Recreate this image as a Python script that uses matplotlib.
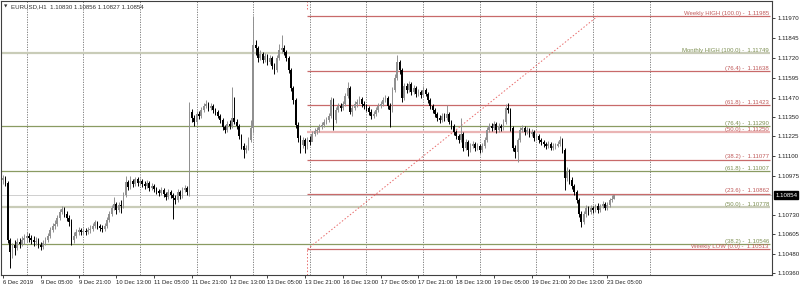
import numpy as np
import matplotlib
matplotlib.use("Agg")
import matplotlib.pyplot as plt

plt.rcParams["font.family"] = ["Liberation Sans", "DejaVu Sans"]

# EURUSD H1, 6 Dec 2019 13:00 .. 23 Dec 2019 08:00 (one row per trading day)
open_first = 1.10949
closes = [
    1.10962, 1.10930, 1.10570, 1.10494, 1.10538, 1.10519, 1.10557, 1.10545, 1.10570, 1.10582, 1.10595,
    1.10582, 1.10570, 1.10557, 1.10563, 1.10538, 1.10526, 1.10551, 1.10570, 1.10595, 1.10633, 1.10658, 1.10671,
    1.10709, 1.10747, 1.10766, 1.10734, 1.10709, 1.10684, 1.10570, 1.10595, 1.10620, 1.10633, 1.10620, 1.10627,
    1.10620, 1.10633, 1.10640, 1.10658, 1.10684, 1.10658, 1.10646, 1.10640, 1.10658, 1.10696, 1.10734, 1.10772,
    1.10797, 1.10759, 1.10791, 1.10785, 1.10854, 1.10936, 1.10905, 1.10943, 1.10924, 1.10955, 1.10930, 1.10943,
    1.10924, 1.10911, 1.10930, 1.10898, 1.10911, 1.10892, 1.10880, 1.10867, 1.10886, 1.10861, 1.10842, 1.10873,
    1.10854, 1.10835, 1.10823, 1.10873, 1.10848, 1.10886, 1.10898, 1.10873, 1.11379, 1.11341, 1.11315, 1.11366,
    1.11353, 1.11391, 1.11416, 1.11429, 1.11404, 1.11416, 1.11391, 1.11379, 1.11353, 1.11328, 1.11284, 1.11265,
    1.11303, 1.11290, 1.11341, 1.11315, 1.11290, 1.11227, 1.11164, 1.11138, 1.11151, 1.11202, 1.11277, 1.11802,
    1.11783, 1.11720, 1.11745, 1.11707, 1.11732, 1.11694, 1.11720, 1.11669, 1.11644, 1.11720, 1.11770, 1.11783,
    1.11757, 1.11720, 1.11644, 1.11530, 1.11454, 1.11296, 1.11214, 1.11170, 1.11202, 1.11164, 1.11202, 1.11189,
    1.11240, 1.11259, 1.11265, 1.11284, 1.11296, 1.11315, 1.11328, 1.11353, 1.11454, 1.11328, 1.11391, 1.11416,
    1.11404, 1.11429, 1.11480, 1.11530, 1.11379, 1.11404, 1.11429, 1.11442, 1.11461, 1.11429, 1.11416, 1.11404,
    1.11379, 1.11353, 1.11366, 1.11391, 1.11416, 1.11429, 1.11454, 1.11467, 1.11416, 1.11391, 1.11517, 1.11593,
    1.11694, 1.11644, 1.11467, 1.11543, 1.11517, 1.11555, 1.11505, 1.11530, 1.11492, 1.11505, 1.11486, 1.11517,
    1.11492, 1.11454, 1.11416, 1.11391, 1.11366, 1.11341, 1.11328, 1.11353, 1.11341, 1.11366, 1.11315, 1.11290,
    1.11252, 1.11227, 1.11202, 1.11240, 1.11151, 1.11189, 1.11138, 1.11164, 1.11176, 1.11151, 1.11164, 1.11138,
    1.11164, 1.11202, 1.11265, 1.11290, 1.11277, 1.11303, 1.11265, 1.11290, 1.11277, 1.11315, 1.11404, 1.11391,
    1.11277, 1.11151, 1.11126, 1.11202, 1.11265, 1.11277, 1.11252, 1.11265, 1.11240, 1.11252, 1.11214, 1.11227,
    1.11202, 1.11189, 1.11176, 1.11164, 1.11176, 1.11151, 1.11164, 1.11164, 1.11176, 1.11202, 1.11138, 1.10962,
    1.11000, 1.10949, 1.10911, 1.10873, 1.10823, 1.10734, 1.10684, 1.10734, 1.10772, 1.10747, 1.10772, 1.10759,
    1.10785, 1.10759, 1.10785, 1.10797, 1.10772, 1.10791, 1.10823, 1.10830, 1.10854,
]
highs = [
    1.10981, 1.10974, 1.10943, 1.10582, 1.10551, 1.10570, 1.10582, 1.10582, 1.10595, 1.10608, 1.10620,
    1.10614, 1.10601, 1.10595, 1.10589, 1.10582, 1.10557, 1.10570, 1.10589, 1.10614, 1.10652, 1.10677, 1.10696,
    1.10728, 1.10766, 1.10785, 1.10778, 1.10753, 1.10728, 1.10702, 1.10620, 1.10640, 1.10652, 1.10646, 1.10646,
    1.10646, 1.10652, 1.10665, 1.10677, 1.10696, 1.10690, 1.10671, 1.10665, 1.10677, 1.10715, 1.10753, 1.10791,
    1.10842, 1.10810, 1.10810, 1.10823, 1.10873, 1.10974, 1.10949, 1.10974, 1.10955, 1.10968, 1.10968, 1.10962,
    1.10955, 1.10943, 1.10949, 1.10943, 1.10930, 1.10924, 1.10905, 1.10892, 1.10905, 1.10898, 1.10873, 1.10892,
    1.10886, 1.10867, 1.10854, 1.10892, 1.10886, 1.10905, 1.10917, 1.10911, 1.11442, 1.11397, 1.11359, 1.11385,
    1.11385, 1.11410, 1.11435, 1.11454, 1.11442, 1.11435, 1.11429, 1.11404, 1.11391, 1.11366, 1.11341, 1.11296,
    1.11322, 1.11328, 1.11536, 1.11473, 1.11334, 1.11303, 1.11240, 1.11183, 1.11170, 1.11221, 1.11328, 1.11985,
    1.11833, 1.11795, 1.11770, 1.11757, 1.11751, 1.11745, 1.11739, 1.11732, 1.11688, 1.11739, 1.11808, 1.11865,
    1.11802, 1.11770, 1.11732, 1.11656, 1.11543, 1.11467, 1.11315, 1.11233, 1.11221, 1.11214, 1.11221, 1.11227,
    1.11259, 1.11277, 1.11284, 1.11303, 1.11315, 1.11334, 1.11347, 1.11372, 1.11473, 1.11467, 1.11410, 1.11435,
    1.11435, 1.11448, 1.11499, 1.11568, 1.11543, 1.11423, 1.11448, 1.11461, 1.11480, 1.11473, 1.11448, 1.11429,
    1.11416, 1.11397, 1.11385, 1.11410, 1.11435, 1.11448, 1.11473, 1.11486, 1.11480, 1.11435, 1.11536, 1.11619,
    1.11739, 1.11707, 1.11656, 1.11562, 1.11562, 1.11574, 1.11568, 1.11549, 1.11543, 1.11524, 1.11517, 1.11543,
    1.11530, 1.11505, 1.11467, 1.11429, 1.11404, 1.11379, 1.11359, 1.11372, 1.11372, 1.11423, 1.11379, 1.11328,
    1.11303, 1.11265, 1.11240, 1.11341, 1.11252, 1.11208, 1.11202, 1.11183, 1.11195, 1.11189, 1.11183, 1.11176,
    1.11183, 1.11221, 1.11284, 1.11309, 1.11309, 1.11322, 1.11315, 1.11309, 1.11303, 1.11334, 1.11429, 1.11435,
    1.11404, 1.11290, 1.11170, 1.11214, 1.11284, 1.11296, 1.11290, 1.11284, 1.11277, 1.11271, 1.11265, 1.11246,
    1.11240, 1.11214, 1.11202, 1.11189, 1.11195, 1.11189, 1.11183, 1.11183, 1.11195, 1.11227, 1.11214, 1.11151,
    1.11031, 1.11018, 1.10968, 1.10924, 1.10886, 1.10835, 1.10753, 1.10753, 1.10791, 1.10785, 1.10791, 1.10785,
    1.10797, 1.10804, 1.10797, 1.10816, 1.10810, 1.10810, 1.10835, 1.10854, 1.10856,
]
lows = [
    1.10924, 1.10911, 1.10551, 1.10393, 1.10456, 1.10475, 1.10507, 1.10519, 1.10532, 1.10545, 1.10557,
    1.10557, 1.10545, 1.10532, 1.10538, 1.10519, 1.10507, 1.10513, 1.10538, 1.10557, 1.10582, 1.10620, 1.10640,
    1.10658, 1.10696, 1.10734, 1.10715, 1.10690, 1.10658, 1.10538, 1.10551, 1.10582, 1.10601, 1.10601, 1.10608,
    1.10601, 1.10608, 1.10614, 1.10627, 1.10646, 1.10640, 1.10627, 1.10620, 1.10627, 1.10646, 1.10684, 1.10721,
    1.10759, 1.10734, 1.10747, 1.10740, 1.10772, 1.10842, 1.10886, 1.10892, 1.10905, 1.10911, 1.10911, 1.10917,
    1.10905, 1.10892, 1.10898, 1.10880, 1.10886, 1.10873, 1.10861, 1.10848, 1.10854, 1.10842, 1.10823, 1.10829,
    1.10835, 1.10702, 1.10797, 1.10810, 1.10829, 1.10835, 1.10873, 1.10854, 1.10848, 1.11315, 1.11290, 1.11303,
    1.11334, 1.11341, 1.11379, 1.11404, 1.11385, 1.11391, 1.11372, 1.11359, 1.11341, 1.11309, 1.11265, 1.11246,
    1.11252, 1.11271, 1.11277, 1.11303, 1.11271, 1.11208, 1.11145, 1.11088, 1.11119, 1.11138, 1.11189, 1.11246,
    1.11739, 1.11694, 1.11707, 1.11688, 1.11694, 1.11675, 1.11682, 1.11650, 1.11619, 1.11631, 1.11707, 1.11751,
    1.11739, 1.11701, 1.11625, 1.11511, 1.11429, 1.11277, 1.11189, 1.11119, 1.11151, 1.11119, 1.11145, 1.11170,
    1.11202, 1.11227, 1.11240, 1.11252, 1.11271, 1.11284, 1.11303, 1.11315, 1.11341, 1.11265, 1.11309, 1.11379,
    1.11385, 1.11391, 1.11416, 1.11467, 1.11366, 1.11353, 1.11391, 1.11410, 1.11429, 1.11410, 1.11397, 1.11385,
    1.11359, 1.11334, 1.11341, 1.11353, 1.11379, 1.11404, 1.11416, 1.11442, 1.11397, 1.11284, 1.11379, 1.11505,
    1.11581, 1.11619, 1.11442, 1.11454, 1.11499, 1.11505, 1.11486, 1.11492, 1.11473, 1.11480, 1.11467, 1.11473,
    1.11480, 1.11435, 1.11397, 1.11372, 1.11347, 1.11322, 1.11309, 1.11315, 1.11322, 1.11328, 1.11303, 1.11271,
    1.11233, 1.11208, 1.11183, 1.11189, 1.11132, 1.11138, 1.11101, 1.11126, 1.11151, 1.11132, 1.11138, 1.11119,
    1.11126, 1.11151, 1.11189, 1.11252, 1.11259, 1.11265, 1.11246, 1.11252, 1.11259, 1.11265, 1.11303, 1.11372,
    1.11259, 1.11132, 1.11088, 1.11063, 1.11189, 1.11252, 1.11233, 1.11240, 1.11221, 1.11227, 1.11195, 1.11202,
    1.11183, 1.11170, 1.11157, 1.11145, 1.11151, 1.11138, 1.11138, 1.11145, 1.11157, 1.11164, 1.11119, 1.10886,
    1.10943, 1.10924, 1.10892, 1.10854, 1.10804, 1.10715, 1.10652, 1.10671, 1.10715, 1.10728, 1.10734, 1.10740,
    1.10747, 1.10740, 1.10747, 1.10772, 1.10759, 1.10759, 1.10778, 1.10810, 1.10827,
]

time_labels = ["6 Dec 2019", "9 Dec 05:00", "9 Dec 21:00", "10 Dec 13:00", "11 Dec 05:00",
               "11 Dec 21:00", "12 Dec 13:00", "13 Dec 05:00", "13 Dec 21:00", "16 Dec 13:00",
               "17 Dec 05:00", "17 Dec 21:00", "18 Dec 13:00", "19 Dec 05:00", "19 Dec 21:00",
               "20 Dec 13:00", "23 Dec 05:00"]
time_label_bars = [0, 16, 32, 48, 64, 80, 96, 112, 128, 144, 160, 176, 192, 208, 224, 240, 256]
grid_bars = [10, 34, 58, 82, 106, 130, 154, 178, 202, 226, 250, 274]

weekly_names = ["Weekly HIGH (100.0)", "(76.4)", "(61.8)", "(50.0)", "(38.2)", "(23.6)", "Weekly LOW (0.0)"]
weekly_levels = [1.11985, 1.11638, 1.11423, 1.11250, 1.11077, 1.10862, 1.10513]
monthly_names = ["Monthly HIGH (100.0)", "(76.4)", "(61.8)", "(50.0)", "(38.2)"]
monthly_levels = [1.11749, 1.11290, 1.11007, 1.10778, 1.10546]
weekly_start_bar = 129
weekly_end_bar = 252

price_ticks = [1.11970, 1.11845, 1.11720, 1.11595, 1.11470, 1.11350, 1.11225,
               1.11100, 1.10975, 1.10730, 1.10605, 1.10480, 1.10360]
bid = 1.10854

c = np.array(closes)
h = np.array(highs)
l = np.array(lows)
o = np.r_[open_first, c[:-1]]
x = np.arange(len(c))

fig = plt.figure(figsize=(8, 2.88), dpi=100)
ax = fig.add_axes([1 / 800, 13 / 288, 771 / 800, 274 / 288])
ax.set_xlim(-0.85, 325.8)
ax.set_ylim(1.10349, 1.12080)
x_end = 325

# grid
ax.vlines(grid_bars, 1.10349, 1.12080, colors="#707070", lw=0.6, linestyles=(0, (1.5, 1.5)), zorder=1)

# monthly fibo (full width)
m_line = ["#c9ccb8", "#8a9b62", "#8a9b62", "#c9ccb8", "#8a9b62"]
m_lw = [1.6, 0.9, 0.9, 1.6, 0.9]
for name, lvl, col, lw in zip(monthly_names, monthly_levels, m_line, m_lw):
    ax.hlines(lvl, -0.85, x_end, colors=col, lw=lw, zorder=2)
    ax.text(x_end - 0.5, lvl + 0.00002, f"{name} -  {lvl:.5f}", ha="right", va="bottom",
            fontsize=4.3, color="#7d8f52", zorder=5)

# bid line
ax.axhline(bid, color="#c8c8c8", lw=0.6, zorder=2)

# weekly fibo
for name, lvl in zip(weekly_names, weekly_levels):
    col, lw = ("#eab4b4", 1.6) if name == "(50.0)" else ("#c86a6a", 0.9)
    ax.hlines(lvl, weekly_start_bar, x_end, colors=col, lw=lw, zorder=2)
    ax.text(x_end - 0.5, lvl + 0.00002, f"{name} -  {lvl:.5f}", ha="right", va="bottom",
            fontsize=4.3, color="#c05a5a", zorder=5)
ax.plot([weekly_start_bar, weekly_end_bar], [weekly_levels[-1], weekly_levels[0]],
        color="#e86a6a", lw=0.7, ls=(0, (1.5, 2)), zorder=2)
ax.vlines(weekly_start_bar, 1.10349, weekly_levels[-1], colors="#e86a6a", lw=0.7,
          linestyles=(0, (1.5, 2)), zorder=2)
ax.vlines(weekly_start_bar, 1.12030, 1.12080, colors="#e86a6a", lw=0.7,
          linestyles=(0, (1.5, 2)), zorder=2)

# candles
up = c >= o
cols = np.where(up, "#909090", "#000000")
ax.vlines(x, l, h, colors=cols, lw=0.7, zorder=3)
ax.bar(x, np.abs(c - o), bottom=np.minimum(o, c), width=0.72, color=cols, linewidth=0, zorder=4)

# axes styling
for s in ax.spines.values():
    s.set_color("#404040")
    s.set_linewidth(0.8)
ax.yaxis.tick_right()
ax.set_yticks(price_ticks)
ax.set_yticklabels([f"{p:.5f}" for p in price_ticks])
ax.tick_params(axis="y", length=2.5, width=0.6, pad=1.2, labelsize=4.4, colors="#202020")
ax.set_xticks(time_label_bars)
ax.set_xticklabels(time_labels)
for t in ax.get_xticklabels():
    t.set_ha("left")
ax.tick_params(axis="x", length=2, width=0.6, pad=1.5, labelsize=4.2, colors="#202020")

ax.text(1.004, bid, f"{bid:.5f}", transform=ax.get_yaxis_transform(), ha="left", va="center",
        fontsize=4.4, color="white", bbox=dict(boxstyle="square,pad=0.2", fc="black", ec="black"),
        zorder=6, clip_on=False)

fig.text(4 / 800, 1 - 7 / 288, "\u25bc", fontsize=3.2, color="#303030", va="center",
         family="DejaVu Sans")
fig.text(11 / 800, 1 - 7 / 288, "EURUSD,H1  1.10830 1.10856 1.10827 1.10854", fontsize=4.4,
         color="#303030", va="center")

fig.savefig("out.png", dpi=100)
